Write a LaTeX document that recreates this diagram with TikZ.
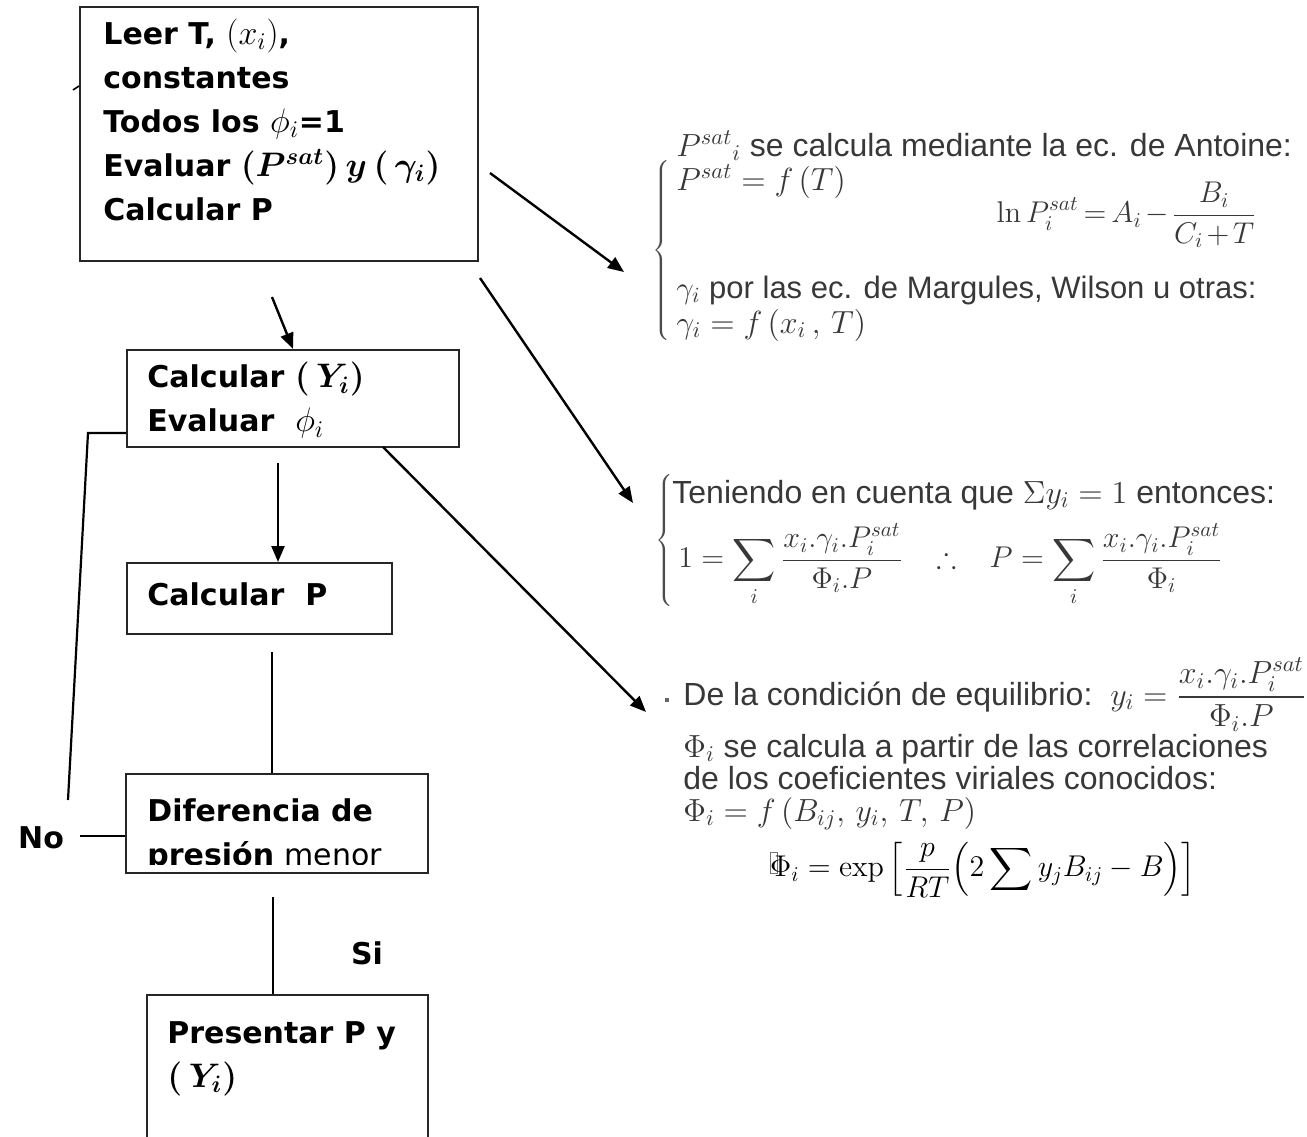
\RequirePackage{fix-cm}
\documentclass[tikz,border=0pt]{standalone}
\usepackage{amsmath,amssymb}
\usepackage[no-math]{fontspec}
\setmainfont{DejaVu Sans}
\newfontfamily\notefont{Liberation Sans}
\usetikzlibrary{arrows.meta}

\newcommand{\emptyglyph}{\makebox[0pt][l]{\color{black!55}\setlength{\fboxsep}{0pt}%
  \setlength{\fboxrule}{0.4pt}\raisebox{2pt}{\fbox{\rule{0pt}{10pt}\rule{3pt}{0pt}}}}}
\newcommand{\boxmath}[1]{{\fontsize{17}{22}\selectfont#1}}

\tikzset{
  box/.style={draw=black!85, line width=1pt, inner sep=0pt},
  boxtext/.style={anchor=north west, inner sep=0pt, align=left,
    font=\fontsize{15}{22}\selectfont\bfseries},
  note/.style={anchor=base west, inner sep=0pt, text=black!78,
    font=\notefont\fontsize{16}{18}\selectfont},
  flow/.style={line width=1.2pt, -{Triangle[length=8pt,width=6.5pt]}},
  link/.style={line width=1.1pt},
}

\begin{document}
\begin{tikzpicture}[x=0.5pt, y=-0.5pt]
  \useasboundingbox (0,0) rectangle (1307,1136);

  % flow chart boxes
  \node[box, minimum width=199pt, minimum height=127pt] (leer) at (279,134) {};
  \node[box, minimum width=166pt, minimum height=48.5pt] (yi) at (293,398.5) {};
  \node[box, minimum width=132.5pt, minimum height=35.5pt] (calc) at (259.5,598.5) {};
  \node[box, minimum width=151pt, minimum height=49.5pt] (dif) at (277,823.5) {};
  \node[box, minimum width=140.5pt, minimum height=77.5pt] (pres) at (287.5,1072.5) {};

  \node[boxtext] (leertxt) at (103,19) {Leer T, \boxmath{$(x_i)$},\\constantes\\Todos los \boxmath{$\phi_i$}=1\\
    Evaluar \boxmath{\boldmath$(P^{sat})\,y\,(\,\gamma_i)$}\\Calcular P};
  \node[boxtext] (yitxt) at (147,362) {Calcular \boxmath{\boldmath$(\,Y_i)$}\\Evaluar\ \ \boxmath{$\phi_i$}};
  \node[boxtext] (calctxt) at (147,582) {Calcular\ \ P};
  \begin{scope}
    \clip (dif.north west) rectangle ([yshift=5pt]dif.south east);
    \node[boxtext] (diftxt) at (147,798) {Diferencia de\\presión {\mdseries menor}};
  \end{scope}
  \node[boxtext] (prestxt) at (167,1021) {Presentar P y\\\boxmath{\boldmath$(\,Y_i)$}};

  \node[font=\fontsize{15}{18}\selectfont\bfseries, inner sep=0pt] (no) at (41,838) {No};
  \node[font=\fontsize{15}{18}\selectfont\bfseries, inner sep=0pt] (si) at (367,953) {Si};

  % free ends of the connectors
  \coordinate (s1) at (272,297);
  \coordinate (s2) at (278,463);
  \coordinate (s3) at (272,652);
  \coordinate (s4) at (273,897);
  \coordinate (r1) at (490,173);
  \coordinate (r2) at (480,278);
  \coordinate (e1) at (624,272);
  \coordinate (e2) at (633,503);
  \coordinate (e3) at (646,712);
  \coordinate (nol) at (80,836);
  \coordinate (fbot) at (68,800);
  \coordinate (ftop) at (88,433);

  \draw[flow] (s1) -- (yi.north);
  \draw[flow] (s2) -- (s2 |- calc.north);
  \draw[link] (s3) -- (s3 |- dif.north);
  \draw[link] (s4) -- (s4 |- pres.north);
  \draw[link] (nol) -- (dif.west |- nol);
  \draw[link] (fbot) -- (ftop) -- (yi.west |- ftop);
  \draw[link, line width=0.8pt] (73,90) -- (79,86);

  \draw[flow] (r1) -- (e1);
  \draw[flow] (r2) -- (e2);
  \draw[flow] (383,447) -- (e3);

  % notes on the right
  \node[inner sep=0pt, text=black!70] (br1) at (663,248)
    {$\left\{\rule{0pt}{50pt}\right.$};
  \node[note] (n11) at (676,156) {$P^{sat}{}_{i}$ se calcula mediante la ec. de Antoine:};
  \node[note] (n12) at (676,190) {$P^{sat} = f\,(T)$};
  \node[note, anchor=east, font=\notefont\fontsize{15}{18}\selectfont] (n13) at (1257,215)
    {$\thickmuskip=3mu \medmuskip=2mu
      \displaystyle \ln P_i^{sat} = A_i - \frac{B_i}{C_i + T}$};
  \node[note, font=\notefont\fontsize{15.5}{18}\selectfont] (n14) at (676,298)
    {$\gamma_i$ por las ec. de Margules, Wilson u otras:};
  \node[note] (n15) at (676,333) {$\gamma_i = f\,(x_i\,,\,T)$};

  \node[inner sep=0pt, text=black!70] (br2) at (666,538)
    {$\left\{\rule{0pt}{38pt}\right.$};
  \node[note] (n21) at (672,503) {Teniendo en cuenta que $\Sigma y_i = 1$ entonces:};
  \node[note, anchor=west, font=\notefont\fontsize{15}{18}\selectfont] (n22) at (678,565)
    {$\displaystyle 1 = \sum_i \frac{x_i.\gamma_i.P_i^{sat}}{\Phi_i.P} \;\;\; \therefore \;\;\;
      P = \sum_i \frac{x_i.\gamma_i.P_i^{sat}}{\Phi_i}$};

  \fill[black!60] (665,698) rectangle (669,702);
  \node[note] (n31) at (683,705)
    {De la condición de equilibrio:\ \ $\displaystyle y_i = \frac{x_i.\gamma_i.P_i^{sat}}{\Phi_i.P}$};
  \node[note] (n32) at (683,757) {$\Phi_i$ se calcula a partir de las correlaciones};
  \node[note] (n33) at (683,789) {de los coeficientes viriales conocidos:};
  \node[note] (n34) at (683,821) {$\Phi_i = f\,(B_{ij},\, y_i,\, T,\, P)$};

  \node[inner sep=0pt, font=\fontsize{15}{20}\selectfont] (phi) at (983,870)
    {$\displaystyle \emptyglyph\Phi_i = \exp\left[\frac{p}{RT}\Bigl(2\sum y_j B_{ij} - B\Bigr)\right]$};
\end{tikzpicture}
\end{document}
